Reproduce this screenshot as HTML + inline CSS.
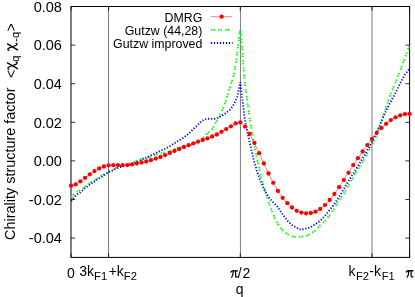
<!DOCTYPE html>
<html><head><meta charset="utf-8"><title>plot</title>
<style>
html,body{margin:0;padding:0;background:#fff;}
svg{display:block;font-family:"Liberation Sans",sans-serif;font-size:14px;fill:#000;}
.yt{font-size:14.5px}
.m{font-size:14px}
.s{font-size:11.2px}
.k{font-size:12.35px}
.yl{font-size:14.45px}
</style></head><body>
<svg width="415" height="297" viewBox="0 0 415 297">
<rect width="415" height="297" fill="#fff"/>
<mask id="mk" maskUnits="userSpaceOnUse" x="0" y="0" width="415" height="297"><rect width="415" height="297" fill="#fff"/></mask>
<g mask="url(#mk)">
<g fill="none" stroke="#000" stroke-width="1">
<path d="M108.5,6.5V257.4M240.45,6.5V257.4M372.0,6.5V257.4" stroke-width="0.52"/>
<path d="M71.0,6.50h4.2M409.6,6.50h-4.2M71.0,45.10h4.2M409.6,45.10h-4.2M71.0,83.70h4.2M409.6,83.70h-4.2M71.0,122.30h4.2M409.6,122.30h-4.2M71.0,160.90h4.2M409.6,160.90h-4.2M71.0,199.50h4.2M409.6,199.50h-4.2M71.0,238.10h4.2M409.6,238.10h-4.2M71.00,257.4v-4.2M71.00,6.5v4.2M108.62,257.4v-4.2M108.62,6.5v4.2M240.30,257.4v-4.2M240.30,6.5v4.2M371.98,257.4v-4.2M371.98,6.5v4.2M409.60,257.4v-4.2M409.60,6.5v4.2" stroke-width="0.8"/>
<rect x="71.0" y="6.5" width="338.6" height="250.89999999999998"/>
</g>
<polyline points="71.2,197.0 73.6,194.4 79.6,190.2 85.7,186.1 91.7,181.9 97.8,178.0 99.3,176.9 104.3,174.2 110.1,170.8 115.0,168.4 120.2,166.3 126.0,164.7 132.4,162.7 137.6,160.4 139.6,159.5 146.2,157.8 151.7,156.4 153.7,155.5 158.3,153.8 160.8,153.2 167.6,152.0 173.6,149.8 179.2,147.4 183.5,146.9 186.0,146.7 188.5,145.8 193.6,144.4 195.1,143.5 199.6,140.8 201.2,139.8 205.2,135.7 206.5,134.2 209.7,131.4 211.8,129.7 214.3,125.7 215.3,123.5 218.3,119.0 221.3,112.1 222.3,110.0 224.3,105.8 226.9,97.1 231.1,83.6 233.7,75.2 236.2,61.5 237.0,54.6 237.9,47.0 238.7,40.2 239.6,32.6 240.3,29.3 241.8,45.3 242.9,61.7 244.0,74.0 245.1,85.3 246.6,96.0 247.6,103.6 248.7,111.2 249.7,118.3 250.7,124.4 252.0,132.1 253.2,138.7 254.2,145.3 256.0,153.7 257.6,161.7 259.3,168.4 261.0,176.9 263.5,185.3 266.9,196.3 269.3,204.3 271.8,211.0 274.3,216.9 277.7,223.7 281.9,229.6 287.0,234.1 291.8,236.4 296.5,237.0 301.2,236.6 305.9,236.3 310.6,233.8 315.3,230.6 320.0,225.5 324.7,221.5 329.4,215.2 334.1,208.7 338.8,200.8 343.5,194.2 348.2,186.1 352.9,177.6 357.6,169.3 362.3,162.2 367.0,154.2 371.7,146.0 376.4,135.7 381.1,122.0 385.8,107.8 390.5,94.3 395.2,83.0 399.9,71.0 404.6,58.8 409.3,46.0" fill="none" stroke="#00ff00" stroke-width="1.9" stroke-dasharray="1.5 1 1.5 3.2"/>
<polyline points="71.2,201.2 75.1,196.2 77.6,194.2 80.1,192.4 82.6,190.2 84.7,188.4 87.2,186.6 89.7,184.8 92.2,182.9 94.8,181.3 97.3,179.5 100.2,177.6 104.3,175.0 108.6,172.4 112.9,170.2 117.2,168.2 121.2,166.9 125.3,165.7 129.3,164.7 131.0,164.3 133.3,163.6 136.1,162.6 141.1,159.8 146.7,157.4 152.2,154.7 157.8,152.1 161.0,150.4 163.3,149.7 166.1,148.4 171.1,145.4 176.2,142.2 181.2,139.2 186.3,135.6 190.3,132.1 193.8,128.6 195.1,127.5 199.6,123.0 202.1,120.8 204.6,119.5 207.7,118.7 210.7,118.9 213.7,118.9 216.8,118.6 219.3,117.1 222.3,115.4 224.8,113.9 225.9,112.7 230.5,109.4 233.5,104.8 235.8,100.3 237.3,96.5 240.3,82.2 241.9,96.0 243.1,105.1 244.1,114.2 244.9,119.3 245.9,125.1 247.9,134.2 250.0,143.8 251.2,148.8 254.2,161.7 256.7,170.1 260.1,180.2 264.3,189.8 268.5,197.2 273.0,202.2 277.7,207.0 282.4,214.0 287.1,220.5 291.8,225.0 296.5,227.6 301.2,229.8 305.9,228.5 310.6,227.2 315.3,224.2 320.0,220.8 324.7,216.2 329.4,210.2 334.1,204.4 338.8,197.3 343.5,189.5 348.2,181.5 352.9,174.0 357.6,166.8 362.3,158.9 367.0,150.8 371.7,142.5 376.4,133.0 381.1,122.2 385.8,111.4 390.5,102.1 395.2,93.5 399.9,84.0 404.6,75.0 409.4,68.8" fill="none" stroke="#0000ff" stroke-width="1.9" stroke-dasharray="1.2 1.8"/>
<polyline points="71.0,185.7 75.7,184.4 80.4,181.4 85.1,177.8 89.8,174.3 94.5,171.1 99.2,168.5 103.9,166.5 108.6,165.3 113.3,165.2 118.0,165.2 122.7,165.2 127.4,165.1 132.1,164.4 136.8,163.5 141.5,162.5 146.2,161.5 150.9,160.2 155.7,158.6 160.4,157.0 165.1,155.1 169.8,153.0 174.5,151.0 179.2,149.0 183.9,147.0 188.6,145.2 193.3,143.4 198.0,141.7 202.7,140.0 207.4,138.4 212.1,136.5 216.8,134.5 221.5,131.8 226.2,129.1 230.9,126.3 235.6,123.4 240.3,122.4 245.0,126.6 249.7,133.8 254.4,142.9 259.1,153.2 263.8,163.5 268.5,173.5 273.2,182.8 277.9,191.0 282.6,197.8 287.3,203.2 292.0,207.5 296.7,210.8 301.4,212.6 306.1,213.4 310.8,213.0 315.5,211.7 320.2,209.0 325.0,205.1 329.7,200.0 334.4,193.9 339.1,187.2 343.8,180.1 348.5,172.8 353.2,165.1 357.9,158.2 362.6,151.5 367.3,145.1 372.0,139.0 376.7,132.8 381.4,128.0 386.1,123.8 390.8,120.1 395.5,117.3 400.2,115.4 404.9,114.2 409.6,113.9" fill="none" stroke="#ff0000" stroke-width="0.5"/>
<g fill="#ff0000"><circle cx="71.0" cy="185.7" r="2.15"/><circle cx="75.7" cy="184.4" r="2.15"/><circle cx="80.4" cy="181.4" r="2.15"/><circle cx="85.1" cy="177.8" r="2.15"/><circle cx="89.8" cy="174.3" r="2.15"/><circle cx="94.5" cy="171.1" r="2.15"/><circle cx="99.2" cy="168.5" r="2.15"/><circle cx="103.9" cy="166.5" r="2.15"/><circle cx="108.6" cy="165.3" r="2.15"/><circle cx="113.3" cy="165.2" r="2.15"/><circle cx="118.0" cy="165.2" r="2.15"/><circle cx="122.7" cy="165.2" r="2.15"/><circle cx="127.4" cy="165.1" r="2.15"/><circle cx="132.1" cy="164.4" r="2.15"/><circle cx="136.8" cy="163.5" r="2.15"/><circle cx="141.5" cy="162.5" r="2.15"/><circle cx="146.2" cy="161.5" r="2.15"/><circle cx="150.9" cy="160.2" r="2.15"/><circle cx="155.7" cy="158.6" r="2.15"/><circle cx="160.4" cy="157.0" r="2.15"/><circle cx="165.1" cy="155.1" r="2.15"/><circle cx="169.8" cy="153.0" r="2.15"/><circle cx="174.5" cy="151.0" r="2.15"/><circle cx="179.2" cy="149.0" r="2.15"/><circle cx="183.9" cy="147.0" r="2.15"/><circle cx="188.6" cy="145.2" r="2.15"/><circle cx="193.3" cy="143.4" r="2.15"/><circle cx="198.0" cy="141.7" r="2.15"/><circle cx="202.7" cy="140.0" r="2.15"/><circle cx="207.4" cy="138.4" r="2.15"/><circle cx="212.1" cy="136.5" r="2.15"/><circle cx="216.8" cy="134.5" r="2.15"/><circle cx="221.5" cy="131.8" r="2.15"/><circle cx="226.2" cy="129.1" r="2.15"/><circle cx="230.9" cy="126.3" r="2.15"/><circle cx="235.6" cy="123.4" r="2.15"/><circle cx="240.3" cy="122.4" r="2.15"/><circle cx="245.0" cy="126.6" r="2.15"/><circle cx="249.7" cy="133.8" r="2.15"/><circle cx="254.4" cy="142.9" r="2.15"/><circle cx="259.1" cy="153.2" r="2.15"/><circle cx="263.8" cy="163.5" r="2.15"/><circle cx="268.5" cy="173.5" r="2.15"/><circle cx="273.2" cy="182.8" r="2.15"/><circle cx="277.9" cy="191.0" r="2.15"/><circle cx="282.6" cy="197.8" r="2.15"/><circle cx="287.3" cy="203.2" r="2.15"/><circle cx="292.0" cy="207.5" r="2.15"/><circle cx="296.7" cy="210.8" r="2.15"/><circle cx="301.4" cy="212.6" r="2.15"/><circle cx="306.1" cy="213.4" r="2.15"/><circle cx="310.8" cy="213.0" r="2.15"/><circle cx="315.5" cy="211.7" r="2.15"/><circle cx="320.2" cy="209.0" r="2.15"/><circle cx="325.0" cy="205.1" r="2.15"/><circle cx="329.7" cy="200.0" r="2.15"/><circle cx="334.4" cy="193.9" r="2.15"/><circle cx="339.1" cy="187.2" r="2.15"/><circle cx="343.8" cy="180.1" r="2.15"/><circle cx="348.5" cy="172.8" r="2.15"/><circle cx="353.2" cy="165.1" r="2.15"/><circle cx="357.9" cy="158.2" r="2.15"/><circle cx="362.6" cy="151.5" r="2.15"/><circle cx="367.3" cy="145.1" r="2.15"/><circle cx="372.0" cy="139.0" r="2.15"/><circle cx="376.7" cy="132.8" r="2.15"/><circle cx="381.4" cy="128.0" r="2.15"/><circle cx="386.1" cy="123.8" r="2.15"/><circle cx="390.8" cy="120.1" r="2.15"/><circle cx="395.5" cy="117.3" r="2.15"/><circle cx="400.2" cy="115.4" r="2.15"/><circle cx="404.9" cy="114.2" r="2.15"/><circle cx="409.6" cy="113.9" r="2.15"/></g>
<!-- legend -->
<g class="k" text-anchor="end">
<text x="202.3" y="22.3">DMRG</text>
<text x="202.3" y="35.0">Gutzw (44,28)</text>
<text x="202.3" y="48.2">Gutzw improved</text>
</g>
<path d="M210.9,16.7H232.1" stroke="#ff0000" stroke-width="0.5" fill="none"/>
<circle cx="221.6" cy="16.7" r="2.15" fill="#ff0000"/>
<path d="M210.9,29.9H232.1" stroke="#00ff00" stroke-width="1.9" stroke-dasharray="1.5 1 1.5 3.2" fill="none"/>
<path d="M210.9,43H232.6" stroke="#0000ff" stroke-width="1.9" stroke-dasharray="1.2 1.8" fill="none"/>
<!-- y tick labels -->
<text class="yt" x="61.9" y="11.8" text-anchor="end">0.08</text><text class="yt" x="61.9" y="50.4" text-anchor="end">0.06</text><text class="yt" x="61.9" y="89.0" text-anchor="end">0.04</text><text class="yt" x="61.9" y="127.6" text-anchor="end">0.02</text><text class="yt" x="61.9" y="166.2" text-anchor="end">0.00</text><text class="yt" x="61.9" y="204.8" text-anchor="end">-0.02</text><text class="yt" x="61.9" y="243.4" text-anchor="end">-0.04</text>
<!-- x labels -->
<defs><g id="pi" fill="none" stroke="#000" stroke-linecap="round"><path d="M0.6,-5.5C0.9,-6.5 1.6,-6.75 2.4,-6.75L7.1,-6.75" stroke-width="1.35"/><path d="M2.9,-6.6C2.8,-4 2.4,-1.5 1.3,-0.4" stroke-width="1.25"/><path d="M5.3,-6.6L5.3,-1.7C5.3,-0.3 6.2,-0.2 7,-0.8" stroke-width="1.25"/></g></defs>
<text x="71" y="277.6" text-anchor="middle">0</text>
<text x="79.3" y="275.8">3k<tspan class="s" dy="3.9">F1</tspan><tspan dy="-3.9" dx="1.5">+k</tspan><tspan class="s" dy="3.9">F2</tspan></text>
<use href="#pi" x="230.3" y="277.6"/>
<text x="237.7" y="277.6">/</text><text x="242.4" y="277.6">2</text>
<text x="348.6" y="275.8">k<tspan class="s" dy="3.9" dx="0.4">F2</tspan><tspan dy="-3.9" dx="0.3">-k</tspan><tspan class="s" dy="3.9" dx="0.6">F1</tspan></text>
<use href="#pi" x="405.8" y="277.5"/>
<text x="239.7" y="293.9" text-anchor="middle">q</text>
<!-- y label -->
<defs><g id="chi" fill="none" stroke="#000" stroke-linecap="round"><path d="M0.5,-5.6C0.5,-6.8 1.9,-7.4 2.7,-5.8L5.3,1.2C5.9,2.9 7.2,2.9 7.5,1.5" stroke-width="1.2"/><path d="M6.9,-7.1L1.0,2.9" stroke-width="1.4"/></g></defs>
<g transform="translate(15.2,240.0) rotate(-90)"><text class="yl" x="0" y="0">Chirality structure factor</text></g>
<g transform="translate(16.0,77.9) rotate(-90)"><text x="0" y="0">&lt;</text></g>
<g transform="translate(14.6,69.7) rotate(-90)"><use href="#chi"/></g>
<g transform="translate(18.9,61.7) rotate(-90)"><text class="s" x="0" y="0">q</text></g>
<g transform="translate(14.6,50.8) rotate(-90)"><use href="#chi"/></g>
<g transform="translate(18.9,42.0) rotate(-90)"><text class="s" x="0" y="0">-</text></g>
<g transform="translate(18.9,37.9) rotate(-90)"><text class="s" x="0" y="0">q</text></g>
<g transform="translate(16.0,31.4) rotate(-90)"><text x="0" y="0">&gt;</text></g>
</g>
</svg>
</body></html>
